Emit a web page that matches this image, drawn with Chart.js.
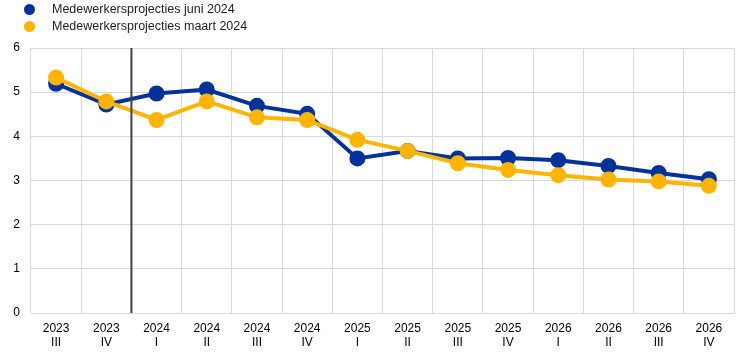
<!DOCTYPE html>
<html>
<head>
<meta charset="utf-8">
<script src="https://cdn.jsdelivr.net/npm/chart.js@4"></script>
<style>
  body { margin: 0; background: #fff; font-family: Arial, "Liberation Sans", sans-serif; }
  #wrap { position: relative; width: 744px; height: 355px; }
  #legend { position: absolute; left: 24px; top: 1px; font-size: 12.5px; color: #222; }
  .item { height: 17px; line-height: 17px; display: flex; align-items: center; }
  .dot { width: 11px; height: 11px; border-radius: 50%; margin-right: 17px; }
</style>
</head>
<body>
<div id="wrap">
  <canvas id="chart" width="744" height="355"></canvas>
  <div id="legend"></div>
</div>
<script>
const years = ["2023", "2023", "2024", "2024", "2024", "2024", "2025", "2025", "2025", "2025", "2026", "2026", "2026", "2026"];
const quarters = ["III", "IV", "I", "II", "III", "IV", "I", "II", "III", "IV", "I", "II", "III", "IV"];
const juni2024 = [5.19, 4.72, 4.97, 5.06, 4.69, 4.51, 3.50, 3.67, 3.50, 3.51, 3.46, 3.33, 3.17, 3.03];
const maart2024 = [5.33, 4.79, 4.37, 4.79, 4.43, 4.37, 3.92, 3.67, 3.39, 3.24, 3.12, 3.02, 2.98, 2.88];
const labelJuni = "Medewerkersprojecties juni 2024";
const labelMaart = "Medewerkersprojecties maart 2024";
const colorBlue = "#003299";
const colorYellow = "#ffb400";

const labels = years.map((y, i) => [y, quarters[i]]);

// legend as html
const legendItems = [[labelJuni, colorBlue], [labelMaart, colorYellow]];
document.getElementById("legend").innerHTML = legendItems.map(([t, c]) =>
  `<div class="item"><span class="dot" style="background:${c}"></span>${t}</div>`).join("");

// vertical line between 2023 IV and 2024 I
const cutLine = {
  id: "cutLine",
  afterDatasetsDraw(chart) {
    const x = chart.scales.x;
    const px = (x.getPixelForValue(1) + x.getPixelForValue(2)) / 2;
    const ctx = chart.ctx;
    ctx.save();
    ctx.strokeStyle = "#404040";
    ctx.lineWidth = 2;
    ctx.beginPath();
    ctx.moveTo(px, chart.chartArea.top);
    ctx.lineTo(px, chart.chartArea.bottom);
    ctx.stroke();
    ctx.restore();
  }
};

new Chart(document.getElementById("chart"), {
  type: "line",
  data: {
    labels: labels,
    datasets: [
      {
        label: labelJuni,
        data: juni2024,
        borderColor: colorBlue,
        backgroundColor: colorBlue,
        borderWidth: 4,
        pointRadius: 6,
        pointHoverRadius: 6,
        tension: 0,
        order: 2,
      },
      {
        label: labelMaart,
        data: maart2024,
        borderColor: colorYellow,
        backgroundColor: colorYellow,
        borderWidth: 4,
        pointRadius: 6,
        pointHoverRadius: 6,
        tension: 0,
        order: 1,
      },
    ],
  },
  options: {
    responsive: false,
    animation: false,
    layout: { padding: { top: 48, right: 10, left: 0, bottom: 0 } },
    plugins: { legend: { display: false }, tooltip: { enabled: false } },
    scales: {
      x: {
        offset: true,
        grid: { offset: true, color: "#d9d9d9", drawTicks: false },
        border: { color: "#d9d9d9" },
        ticks: { color: "#000", font: { size: 12, family: "Arial, 'Liberation Sans'" }, padding: 8, maxRotation: 0, autoSkip: false },
        afterFit(s) { s.height = 42; },
      },
      y: {
        min: 0,
        max: 6,
        grid: { color: "#d9d9d9", drawTicks: false },
        border: { display: false },
        ticks: { stepSize: 1, color: "#000", font: { size: 12, family: "Arial, 'Liberation Sans'" }, padding: 11 },
        afterFit(s) { s.width = 31; },
      },
    },
  },
  plugins: [cutLine],
});
</script>
</body>
</html>
